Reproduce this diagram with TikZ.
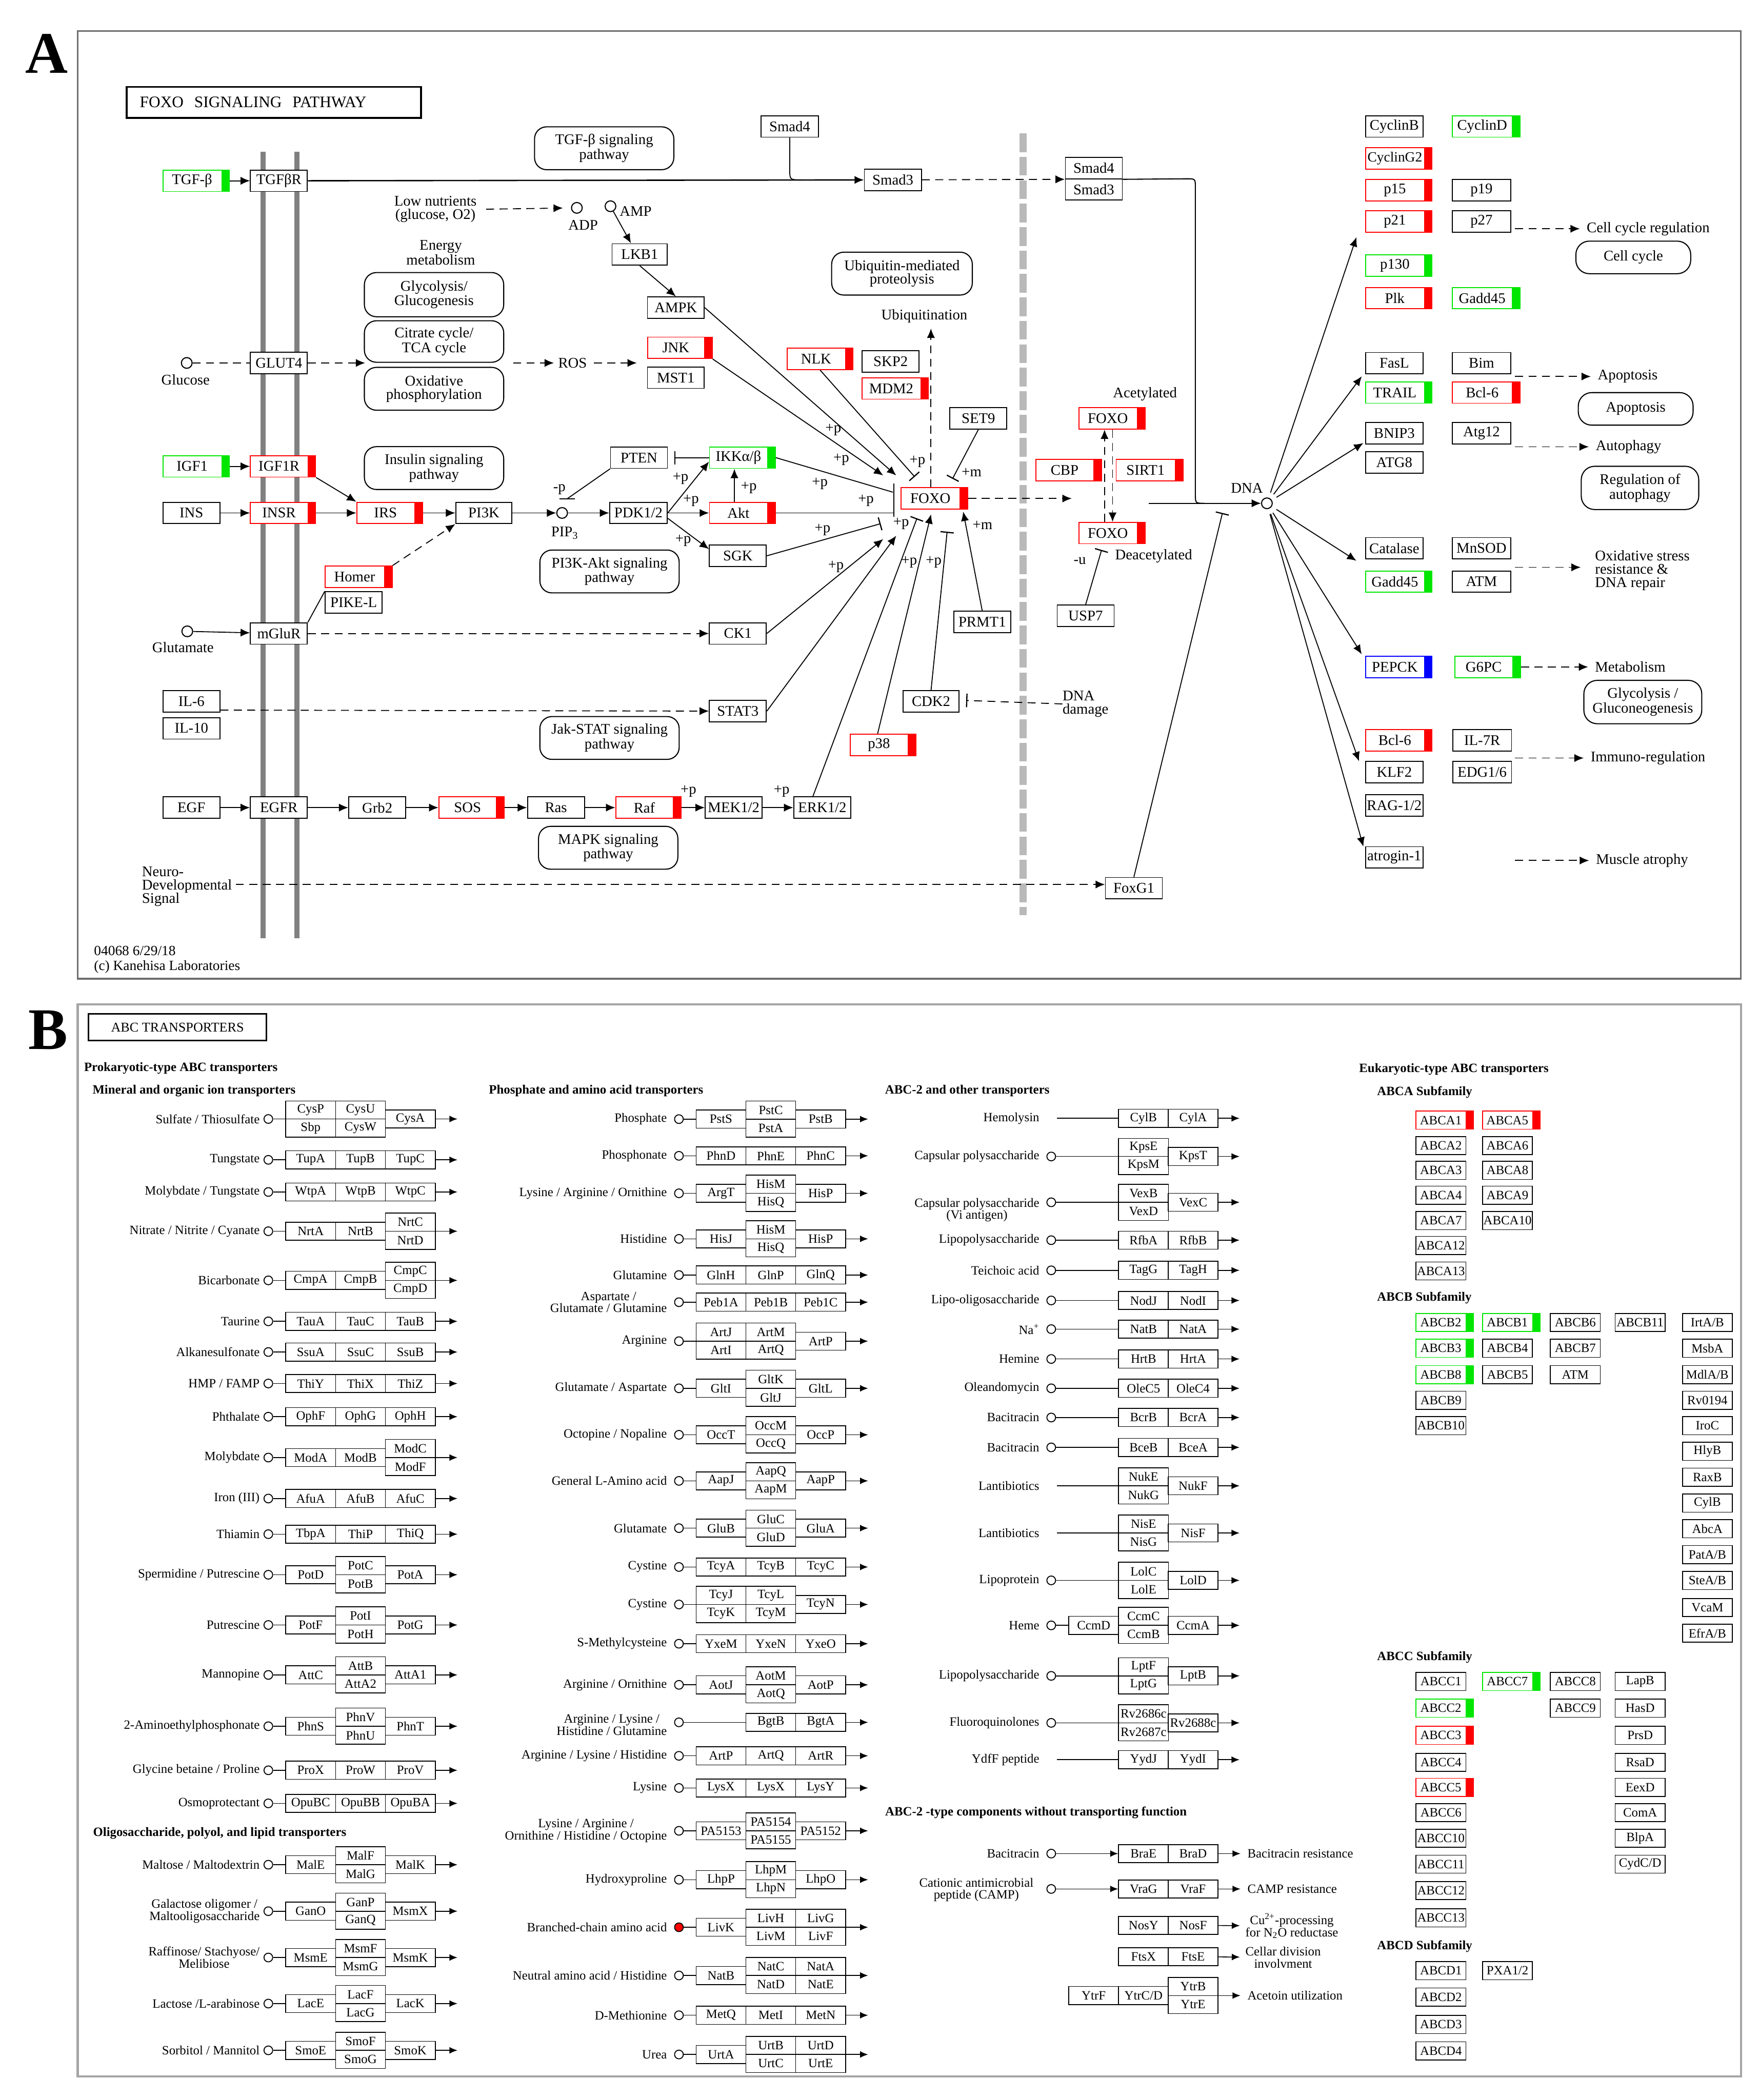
\documentclass[tikz,border=0pt]{standalone}
\usepackage{fontspec}
\setmainfont{Liberation Serif}
\usetikzlibrary{arrows.meta,calc}
\definecolor{kred}{RGB}{255,0,0}
\definecolor{kgreen}{RGB}{0,230,0}
\definecolor{kblue}{RGB}{0,0,255}
\definecolor{frameg}{RGB}{110,110,110}
\definecolor{frameb}{RGB}{165,165,165}
\definecolor{memg}{RGB}{128,128,128}
\definecolor{dashg}{RGB}{185,185,185}
\newcommand\fa{\fontsize{11}{10}\selectfont}
\newcommand\fsm{\fontsize{10.5}{11}\selectfont}
\newcommand\fb{\fontsize{9.5}{9}\selectfont}
\newcounter{rc}
\newcommand\qcf{white}
% one cell of a transporter: single box, or two stacked boxes
\newcommand{\tpcell}[5]{%
  \if\relax\detokenize{#5}\relax
    \node[tb] (#1) at (#2,#3) {#4};%
  \else
    \node[tb] (#1t) at (#2,#3-6.75) {#4};%
    \node[tb] (#1b) at (#2,#3+6.75) {#5};%
  \fi}
% three-component transporter row
\newcommand{\tprow}[8]{%
  \stepcounter{rc}\edef\qrn{R\arabic{rc}}%
  \node[lb] (\qrn-l) at (\qxl,#1) {#2};%
  \node[cirb] (\qrn-c) at (\qxc,#1) {};%
  \tpcell{\qrn-a}{\qxa}{#1}{#3}{#4}%
  \tpcell{\qrn-b}{\qxb}{#1}{#5}{#6}%
  \tpcell{\qrn-d}{\qxd}{#1}{#7}{#8}%
  \coordinate (\qrn-i) at (\qxa,#1);%
  \coordinate (\qrn-o) at (\qxr,#1);%
  \coordinate (\qrn-e) at (\qxe,#1);%
  \draw[tl] (\qrn-c) -- (\qrn-i);%
  \draw[ta] (\qrn-o) -- (\qrn-e);}
% two-component transporter row
\newcommand{\tprowc}[7]{%
  \stepcounter{rc}\edef\qrn{R\arabic{rc}}%
  \node[lb] (\qrn-l) at (\qxl,#1) {#2};%
  \ifnum#7=1 \node[cirb] (\qrn-c) at (\qxc,#1) {};\else \coordinate (\qrn-c) at (789,#1);\fi
  \tpcell{\qrn-a}{\qxa}{#1}{#3}{#4}%
  \tpcell{\qrn-b}{\qxb}{#1}{#5}{#6}%
  \coordinate (\qrn-i) at (\qxa,#1);%
  \coordinate (\qrn-o) at (\qxr,#1);%
  \coordinate (\qrn-e) at (\qxe,#1);%
  \draw[tl] (\qrn-c) -- (\qrn-i);%
  \draw[ta] (\qrn-o) -- (\qrn-e);}
\newcommand{\eb}[4]{\node[tb] (#1) at (#2,#3) {#4};}
\newcommand{\ebc}[5]{\node[tb, minimum width=43pt, hl=#5] (#1) at (#2,#3) {#4};}

\begin{document}
\begin{tikzpicture}[x=1pt,y=-1pt,
  every node/.style={inner sep=0pt},
  ga/.style={draw, fill=white, line width=0.7pt, minimum height=16pt, font=\fa},
  hl/.style={draw=#1, path picture={\fill[#1] ([xshift=-6pt]path picture bounding box.north east) rectangle (path picture bounding box.south east);}, execute at end node={\hspace*{6pt}}},
  pw/.style={draw, fill=white, line width=0.8pt, rounded corners=9pt, minimum width=104pt, minimum height=32pt, align=center, font=\fa},
  tx/.style={font=\fa, align=center},
  arr/.style={-{Latex[length=7pt,width=6pt]}, line width=0.7pt},
  darr/.style={arr, dash pattern=on 6pt off 4pt},
  dl/.style={line width=0.7pt, dash pattern=on 6pt off 4pt},
  inh/.style={-{Bar[width=10pt,line width=0.9pt]}, line width=0.7pt},
  circa/.style={draw, circle, minimum size=8pt, line width=0.8pt, fill=white},
  tb/.style={draw, fill=white, line width=0.6pt, minimum width=37.2pt, minimum height=13.5pt, anchor=west, font=\fb},
  lb/.style={anchor=east, font=\fb, align=center},
  cirb/.style={draw, circle, minimum size=6.5pt, line width=0.7pt, fill=\qcf},
  tl/.style={line width=0.6pt},
  ta/.style={-{Latex[length=6pt,width=5pt]}, line width=0.6pt},
  hb/.style={anchor=west, font=\fb\bfseries},
  rt/.style={anchor=west, font=\fb, align=center}
]
\fill[white] (0,0) rectangle (1313,1568);
\useasboundingbox (0,0) rectangle (1313,1568);

% ================= PANEL A =================
\draw[frameg, line width=1.2pt] (58,23) rectangle (1299.5,730.8);
\node[font=\fontsize{44}{44}\selectfont\bfseries] (labA) at (35,40) {A};
\node[draw, line width=1.3pt, minimum width=219.8pt, minimum height=23pt, text width=200pt, align=left, font=\fontsize{12}{12}\selectfont] (titA) at (204.4,76.5) {FOXO\ \ SIGNALING\ \ PATHWAY};

\draw[memg, line width=3.8pt] (196.3,113.5) -- (196.3,700.7);
\draw[memg, line width=3.8pt] (221.5,113.5) -- (221.5,700.7);
\draw[dashg, line width=5pt, dash pattern=on 14pt off 3.5pt] (763.7,99.6) -- (763.7,683.3);

% pathway maps
\node[pw] (tgfpw) at (451,110.7) {TGF-β signaling\\pathway};
\node[pw, minimum height=33pt] (glyc) at (324,220) {Glycolysis/\\Glucogenesis};
\node[pw, minimum height=31pt] (tca) at (324,255) {Citrate cycle/\\TCA cycle};
\node[pw] (oxph) at (324,290.3) {Oxidative\\phosphorylation};
\node[pw, minimum width=105pt] (ubq) at (673.3,204.3) {Ubiquitin-mediated\\proteolysis};
\node[pw] (insp) at (324,349.5) {Insulin signaling\\pathway};
\node[pw] (pi3kp) at (455,426.7) {PI3K-Akt signaling\\pathway};
\node[pw] (jakp) at (455,551) {Jak-STAT signaling\\pathway};
\node[pw] (mapkp) at (454,633) {MAPK signaling\\pathway};

% genes, left part
\node[ga,hl=kgreen,minimum width=49.6pt] (tgfb) at (146.4,135) {TGF-β};
\node[ga,minimum width=42.5pt] (tgfbr) at (208.2,135) {TGFβR};
\node[ga,minimum width=42.5pt] (glut4) at (208.2,271) {GLUT4};
\node[ga,hl=kgreen,minimum width=49.6pt] (igf1) at (146.4,348.2) {IGF1};
\node[ga,hl=kred,minimum width=48.7pt] (igf1r) at (211.3,348.2) {IGF1R};
\node[ga,minimum width=42.5pt] (ins) at (142.9,383) {INS};
\node[ga,hl=kred,minimum width=48.7pt] (insr) at (211.3,383) {INSR};
\node[ga,hl=kred,minimum width=49pt] (irs) at (290.8,383) {IRS};
\node[ga,minimum width=42pt] (pi3k) at (361.2,383) {PI3K};
\node[ga,minimum width=42.5pt] (pten) at (477,341.7) {PTEN};
\node[ga,hl=kgreen,minimum width=49.2pt] (ikk) at (554.2,341.7) {IKKα/β};
\node[ga,minimum width=43pt] (pdk) at (476.6,383) {PDK1/2};
\node[ga,hl=kred,minimum width=49.2pt] (akt) at (554.2,383) {Akt};
\node[ga,minimum width=42.5pt] (sgk) at (550.8,415) {SGK};
\node[ga,hl=kred,minimum width=50pt] (homer) at (267.7,430.6) {Homer};
\node[ga,minimum width=42.5pt] (pikel) at (264,449.9) {PIKE-L};
\node[ga,minimum width=42.5pt] (mglur) at (208.2,473) {mGluR};
\node[ga,minimum width=42.5pt] (ck1) at (550.8,473) {CK1};
\node[ga,minimum width=42.5pt] (il6) at (142.9,523.7) {IL-6};
\node[ga,minimum width=42.5pt] (il10) at (142.9,543.8) {IL-10};
\node[ga,minimum width=42.5pt] (stat3) at (550.8,531) {STAT3};
\node[ga,minimum width=42.5pt] (egf) at (142.9,603) {EGF};
\node[ga,minimum width=42.5pt] (egfr) at (208.2,603) {EGFR};
\node[ga,minimum width=42.5pt] (grb2) at (281.6,603) {Grb2};
\node[ga,hl=kred,minimum width=48.7pt] (sos) at (352,603) {SOS};
\node[ga,minimum width=42.5pt] (ras) at (415,603) {Ras};
\node[ga,hl=kred,minimum width=48.7pt] (raf) at (484,603) {Raf};
\node[ga,minimum width=42.5pt] (mek) at (547.7,603) {MEK1/2};
\node[ga,minimum width=42.5pt] (erk) at (613.8,603) {ERK1/2};
\node[ga,minimum width=43pt] (smad4) at (589.5,94.4) {Smad4};
\node[ga,minimum width=42.5pt] (smad3) at (666.5,134.3) {Smad3};
\node[ga,minimum width=41.3pt] (lkb1) at (477.5,190) {LKB1};
\node[ga,minimum width=42.4pt] (ampk) at (504.5,229.7) {AMPK};
\node[ga,hl=kred,minimum width=48.3pt] (jnk) at (507.5,259.7) {JNK};
\node[ga,minimum width=42.4pt] (mst1) at (504.5,282) {MST1};
\node[ga,hl=kred,minimum width=49pt] (nlk) at (612.2,268) {NLK};
\node[ga,minimum width=42.4pt] (skp2) at (664.8,270) {SKP2};
\node[ga,hl=kred,minimum width=49.4pt] (mdm2) at (668.3,290) {MDM2};
\node[ga,minimum width=42.5pt] (set9) at (730.3,312.4) {SET9};
\node[ga,hl=kred,minimum width=49.8pt] (foxo) at (697.5,372.2) {FOXO};
\node[ga,minimum width=42.5pt] (prmt1) at (733.2,464.4) {PRMT1};
\node[ga,minimum width=42pt] (cdk2) at (695,523.6) {CDK2};
\node[ga,hl=kred,minimum width=49pt] (p38) at (659.1,556.2) {p38};
\node[ga,hl=kred,minimum width=49.4pt] (foxoa) at (830,312.4) {FOXO};
\node[ga,hl=kred,minimum width=49pt] (cbp) at (797.7,351) {CBP};
\node[ga,hl=kred,minimum width=49.8pt] (sirt1) at (858.1,351) {SIRT1};
\node[ga,hl=kred,minimum width=49.4pt] (foxod) at (830,398) {FOXO};
\node[ga,minimum width=42.5pt] (usp7) at (810.4,459.8) {USP7};
\node[ga,minimum width=42.5pt] (foxg1) at (846.4,663.2) {FoxG1};
\node[ga,minimum width=42.5pt,minimum height=15.9pt] (smad4b) at (816.5,125.6) {Smad4};
\node[ga,minimum width=42.5pt,minimum height=15.9pt] (smad3b) at (816.5,141.5) {Smad3};
\node[circa] (dna) at (945.7,375.8) {};

% genes, right part
\node[ga,minimum width=42.8pt] (cyclinb) at (1040.8,94.4) {CyclinB};
\node[ga,hl=kgreen,minimum width=50.5pt] (cyclind) at (1109.4,94.4) {CyclinD};
\node[ga,hl=kred,minimum width=49.6pt,font=\fontsize{10.5}{10}\selectfont] (cycling2) at (1044.2,118.4) {CyclinG2};
\node[ga,hl=kred,minimum width=49.6pt] (p15) at (1044.2,142) {p15};
\node[ga,minimum width=43.8pt] (p19) at (1105.9,142) {p19};
\node[ga,hl=kred,minimum width=49.6pt] (p21) at (1044.2,165.3) {p21};
\node[ga,minimum width=43.8pt] (p27) at (1105.9,165.3) {p27};
\node[ga,hl=kgreen,minimum width=49.6pt] (p130) at (1044.2,198.3) {p130};
\node[ga,hl=kred,minimum width=49.6pt] (plk) at (1044.2,222.6) {Plk};
\node[ga,hl=kgreen,minimum width=50.5pt] (gadda) at (1109.4,222.6) {Gadd45};
\node[ga,minimum width=42.8pt] (fasl) at (1040.8,271.2) {FasL};
\node[ga,minimum width=43.8pt] (bim) at (1105.9,271.2) {Bim};
\node[ga,hl=kgreen,minimum width=49.6pt] (trail) at (1044.2,293.1) {TRAIL};
\node[ga,hl=kred,minimum width=50.5pt] (bcla) at (1109.4,293.1) {Bcl-6};
\node[ga,minimum width=42.8pt] (bnip3) at (1040.8,323.4) {BNIP3};
\node[ga,minimum width=43.8pt] (atg12) at (1105.9,323.4) {Atg12};
\node[ga,minimum width=42.8pt] (atg8) at (1040.8,345.2) {ATG8};
\node[ga,minimum width=42.8pt] (catalase) at (1040.8,409.4) {Catalase};
\node[ga,minimum width=43.8pt] (mnsod) at (1105.9,409.4) {MnSOD};
\node[ga,hl=kgreen,minimum width=49.6pt] (gaddb) at (1044.2,434.3) {Gadd45};
\node[ga,minimum width=43.8pt] (atm) at (1105.9,434.3) {ATM};
\node[ga,hl=kblue,minimum width=49.6pt] (pepck) at (1044.2,498) {PEPCK};
\node[ga,hl=kgreen,minimum width=49pt] (g6pc) at (1110.5,498) {G6PC};
\node[ga,hl=kred,minimum width=49.6pt] (bclb) at (1044.2,552.7) {Bcl-6};
\node[ga,minimum width=43.8pt] (il7r) at (1106.4,552.7) {IL-7R};
\node[ga,minimum width=42.8pt] (klf2) at (1040.8,576.6) {KLF2};
\node[ga,minimum width=43.8pt] (edg) at (1106.4,576.6) {EDG1/6};
\node[ga,minimum width=42.8pt] (rag) at (1040.8,601.5) {RAG-1/2};
\node[ga,minimum width=42.8pt] (atrogin) at (1040.8,640.2) {atrogin-1};

% outcome texts and maps, right
\node[tx, anchor=west] (tcc) at (1184.3,170.8) {Cell cycle regulation};
\node[pw, rounded corners=10pt, minimum width=85.7pt, minimum height=24.3pt] (pcc) at (1219.2,192.2) {Cell cycle};
\node[tx, anchor=west] (tap) at (1192.5,281.1) {Apoptosis};
\node[pw, rounded corners=10pt, minimum width=85.7pt, minimum height=24.3pt] (pap) at (1221,305.3) {Apoptosis};
\node[tx, anchor=west] (tau) at (1191,333.6) {Autophagy};
\node[pw, rounded corners=10pt, minimum width=87.7pt, minimum height=32.3pt] (pra) at (1224.2,364.3) {Regulation of\\autophagy};
\node[tx, anchor=west, align=left] (tox) at (1190.5,426) {Oxidative stress\\resistance \&\\DNA repair};
\node[tx, anchor=west] (tmet) at (1190.5,498) {Metabolism};
\node[pw, rounded corners=10pt, minimum width=88pt, minimum height=32.4pt] (pgl) at (1226.3,524.2) {Glycolysis /\\Gluconeogenesis};
\node[tx, anchor=west] (tim) at (1187.2,566) {Immuno-regulation};
\node[tx, anchor=west] (tmu) at (1191.2,642.5) {Muscle atrophy};

% small circles and free texts
\node[circa] (gluc) at (139.4,271) {};
\node[circa] (glu) at (139.8,471.4) {};
\node[circa] (adp) at (430.6,155.2) {};
\node[circa] (amp) at (455.7,154) {};
\node[circa] (pip3) at (419.6,383) {};
\node[tx] (tglucose) at (138.5,283.5) {Glucose};
\node[tx] (tglutamate) at (136.6,483.5) {Glutamate};
\node[tx] (lown) at (325,156.3) {Low nutrients\\(glucose, O2)};
\node[tx] (tadp) at (435.3,168) {ADP};
\node[tx] (tamp) at (474.5,157.9) {AMP};
\node[tx] (energy) at (329,188.6) {Energy\\metabolism};
\node[tx] (ros) at (427.4,271) {ROS};
\node[tx] (ubt) at (690,236) {Ubiquitination};
\node[tx] (acet) at (854.7,294.3) {Acetylated};
\node[tx, anchor=west] (deacet) at (832.3,415.2) {Deacetylated};
\node[tx] (mu) at (806,418.7) {-u};
\node[tx] (tdna) at (930.8,364.3) {DNA};
\node[tx, anchor=west, align=left] (dnadmg) at (793,525.6) {DNA\\damage};
\node[tx] (tpip3) at (421.6,398) {PIP\textsubscript{3}};
\node[tx] (mp) at (417.6,365.5) {-p};
\node[tx, anchor=west, align=left] (neuro) at (105.8,662) {Neuro-\\Developmental\\Signal};
\node[anchor=west, align=left, font=\fsm] (kegg) at (70,716.5) {04068 6/29/18\\(c) Kanehisa Laboratories};
\foreach \px/\py [count=\k] in {622/321, 628/343, 612/361, 646.4/373.6, 614/395.5, 624/423, 684.8/344.8, 672.7/391, 678.7/419.9, 697/419.9, 508/357.5, 515.8/373.6, 510/403.6, 559/364.3, 513.9/590.8, 583.5/590.8}
  \node[tx] (pp\k) at (\px,\py) {+p};
\node[tx] (pm1) at (725.3,352.7) {+m};
\node[tx] (pm2) at (733.4,392) {+m};

% named free ends
\coordinate (s4a) at (589.5,126);
\coordinate (s4b) at (598,134.3);
\coordinate (sl1) at (886,133.5);
\coordinate (sl2) at (892.3,140);
\coordinate (sl3) at (892.3,369);
\coordinate (sl4) at (899,375.8);
\coordinate (dl) at (857.5,375.8);
\coordinate (fgx) at (912.5,383);
\coordinate (gte) at (272.6,271);
\coordinate (rs1) at (383,271);
\coordinate (jin) at (475.4,271);
\coordinate (ptx) at (423.4,372.4);
\coordinate (ptx1) at (417.5,372.4);
\coordinate (ptx2) at (429.3,372.4);
\coordinate (ptb) at (503.3,341.7);
\coordinate (ndl) at (176,660.4);
\coordinate (fA) at (669,355);
\coordinate (fJ) at (659.3,355);
\coordinate (fN) at (682.8,356);
\coordinate (fI) at (666.5,367.5);
\coordinate (fK) at (667.2,383);
\coordinate (fb1) at (667.2,361);
\coordinate (fb2) at (667.2,386);
\coordinate (fS) at (657.4,391);
\coordinate (fC) at (659.3,402.5);
\coordinate (fT) at (669,400);
\coordinate (fE) at (684.5,387);
\coordinate (fP) at (695,384);
\coordinate (fD) at (707,397);
\coordinate (fR) at (719,382);
\coordinate (fX) at (711,357.5);
\coordinate (fU) at (694.9,245.3);
\coordinate (fo) at (800,372.2);
\coordinate (ub) at (822.3,410.6);
\coordinate (cdb) at (721.2,523);
\coordinate (t1) at (1012.5,177.1);
\coordinate (t2) at (1016.5,281);
\coordinate (t3) at (1017.7,330.8);
\coordinate (t4) at (1012.5,418.7);
\coordinate (t5) at (1016.5,488.5);
\coordinate (t6) at (1014.5,568.4);
\coordinate (t7) at (1017.7,632.1);
\coordinate (d1) at (1131,170.8);
\coordinate (d2) at (1131,281.1);
\coordinate (d3) at (1131,333.6);
\coordinate (d4) at (1131,423.6);
\coordinate (d4e) at (1180,423.6);
\coordinate (d6) at (1131,566);
\coordinate (d7) at (1131,642.5);

% connectors A
\draw[arr] (tgfb) -- (tgfbr);
\draw[arr, line width=1pt] (tgfbr) -- (smad3);
\draw[line width=0.7pt] (smad4) -- (s4a) .. controls (589.5,134.3) .. (s4b);
\draw[darr] (smad3) -- (smad4b.south west);
\draw[line width=0.8pt] (smad4b.south east) -- (sl1) .. controls (892.3,133.5) .. (sl2) -- (sl3) .. controls (892.3,375.8) .. (sl4);
\draw[arr] (dl) -- (dna);
\draw[inh] (foxg1.north) -- (fgx);
\draw[darr, shorten <=7pt, shorten >=6pt] (lown.east) -- (adp);
\draw[arr] (amp) -- ($(lkb1.north)+(-6.5,0)$);
\draw[arr] (lkb1.south) -- (ampk.north);
\draw[dl] (gluc) -- (glut4);
\draw[darr] (glut4) -- (gte);
\draw[darr, shorten >=3pt] (rs1) -- (ros.west);
\draw[darr, shorten <=5pt] (ros) -- (jin);
\draw[arr] (igf1) -- (igf1r);
\draw[arr] (ins) -- (insr);
\draw[arr] (insr) -- (irs);
\draw[arr] (igf1r.south east) -- (irs.north west);
\draw[arr] (irs) -- (pi3k);
\draw[arr] (pi3k) -- (pip3);
\draw[arr] (pip3) -- (pdk);
\draw[line width=0.7pt] (pten.south west) -- (ptx);
\draw[line width=1pt] (ptx1) -- (ptx2);
\draw[inh] (ikk) -- (ptb);
\draw[arr] (pdk.east) -- ($(ikk.west)+(0,3)$);
\draw[arr] (pdk) -- (akt);
\draw[arr] ($(pdk.east)+(0,4)$) -- ($(sgk.west)+(0,-5)$);
\draw[arr] ($(akt.north)+(-6,0)$) -- ($(ikk.south)+(-6,0)$);
\draw[darr] (homer.north east) -- (pi3k.south west);
\draw[line width=0.7pt] (mglur.north east) -- (pikel.north west);
\draw[arr] (glu) -- (mglur);
\draw[darr] (mglur) -- (ck1);
\draw[darr] ($(il6.east)+(0,6.5)$) -- (stat3);
\draw[arr] (egf) -- (egfr);
\draw[arr] (egfr) -- (grb2);
\draw[arr] (grb2) -- (sos);
\draw[arr] (sos) -- (ras);
\draw[arr] (ras) -- (raf);
\draw[arr] (raf) -- (mek);
\draw[arr] (mek) -- (erk);
\draw[darr] (ndl) -- (foxg1.west |- ndl);
\draw[arr] (ampk.east) -- (fA);
\draw[arr] (jnk.south east) -- (fJ);
\draw[inh] (nlk.south) -- (fN);
\draw[line width=0.7pt] (ikk.east) -- (fI);
\draw[line width=0.7pt] (akt.east) -- (fK);
\draw[line width=1pt] (fb1) -- (fb2);
\draw[inh] (sgk.east) -- (fS);
\draw[arr] (ck1.east) -- (fC);
\draw[arr] (stat3.east) -- (fT);
\draw[inh] ($(erk.north)+(-7,0)$) -- (fE);
\draw[arr] ($(p38.north)+(-4,0)$) -- (fP);
\draw[inh] (cdk2.north) -- (fD);
\draw[arr] (prmt1.north) -- (fR);
\draw[inh] (set9.south) -- (fX);
\draw[darr] ($(foxo.north)+(-2.6,0)$) -- (fU);
\draw[darr] (foxo.east) -- (fo);
\draw[darr] ($(foxod.north)+(-5.5,0)$) -- ($(foxoa.south)+(-5.5,0)$);
\draw[darr] ($(foxoa.south)+(0.5,0)$) -- ($(foxod.north)+(0.5,0)$);
\draw[inh] (usp7.north) -- (ub);
\draw[dl, -{Bar[width=10pt,line width=0.9pt]}] (dnadmg.west) -- (cdb);
\foreach \t in {t1,t2,t3,t4,t5,t6,t7}
  \draw[arr, shorten <=4pt] (dna) -- (\t);
\draw[darr, shorten >=5pt] (d1) -- (tcc.west);
\draw[darr, shorten >=5pt] (d2) -- (tap.west);
\draw[darr, shorten >=5pt] (d3) -- (tau.west);
\draw[darr] (d4) -- (d4e);
\draw[darr, shorten >=5pt] (g6pc.east) -- (tmet.west);
\draw[darr, shorten >=5pt] (d6) -- (tim.west);
\draw[darr, shorten >=5pt] (d7) -- (tmu.west);

% ================= PANEL B =================
\draw[frameb, line width=1.6pt] (58,750) rectangle (1299.7,1550.5);
\node[font=\fontsize{44}{44}\selectfont\bfseries] (labB) at (36,769) {B};
\node[draw, line width=1.2pt, minimum width=133pt, minimum height=20pt, font=\fontsize{10}{10}\selectfont] (titB) at (132.5,767) {ABC TRANSPORTERS};

\node[hb] (h1) at (62.6,797.7) {Prokaryotic-type ABC transporters};
\node[hb] (h2) at (68.9,814.3) {Mineral and organic ion transporters};
\node[hb] (h3) at (69.3,1368.8) {Oligosaccharide, polyol, and lipid transporters};
\node[hb] (h4) at (364.8,814.5) {Phosphate and amino acid transporters};
\node[hb] (h5) at (660.5,814.5) {ABC-2 and other transporters};
\node[hb] (h6) at (660.6,1353.5) {ABC-2 -type components without transporting function};
\node[hb] (h7) at (1014.4,798.2) {Eukaryotic-type ABC transporters};
\node[hb] (h8) at (1027.8,815.5) {ABCA Subfamily};
\node[hb] (h9) at (1027.8,969.2) {ABCB Subfamily};
\node[hb] (h10) at (1027.8,1237.5) {ABCC Subfamily};
\node[hb] (h11) at (1027.8,1453.2) {ABCD Subfamily};

% column 1
\def\qxl{194}\def\qxc{200.3}\def\qxa{213}\def\qxb{250.2}\def\qxd{287.4}\def\qxr{324.6}\def\qxe{341.5}
\tprow{835.5}{Sulfate / Thiosulfate}{CysP}{Sbp}{CysU}{CysW}{CysA}{}
\tprow{866}{Tungstate}{TupA}{}{TupB}{}{TupC}{}
\tprow{890}{Molybdate / Tungstate}{WtpA}{}{WtpB}{}{WtpC}{}
\tprow{919.3}{Nitrate / Nitrite / Cyanate}{NrtA}{}{NrtB}{}{NrtC}{NrtD}
\tprow{956}{Bicarbonate}{CmpA}{}{CmpB}{}{CmpC}{CmpD}
\tprow{986.6}{Taurine}{TauA}{}{TauC}{}{TauB}{}
\tprow{1009.5}{Alkanesulfonate}{SsuA}{}{SsuC}{}{SsuB}{}
\tprow{1033}{HMP / FAMP}{ThiY}{}{ThiX}{}{ThiZ}{}
\tprow{1057.8}{Phthalate}{OphF}{}{OphG}{}{OphH}{}
\tprow{1088.3}{Molybdate}{ModA}{}{ModB}{}{ModC}{ModF}
\tprow{1118.9}{Iron (III)}{AfuA}{}{AfuB}{}{AfuC}{}
\tprow{1145.5}{Thiamin}{TbpA}{}{ThiP}{}{ThiQ}{}
\tprow{1175.8}{Spermidine / Putrescine}{PotD}{}{PotC}{PotB}{PotA}{}
\tprow{1213.3}{Putrescine}{PotF}{}{PotI}{PotH}{PotG}{}
\tprow{1250.6}{Mannopine}{AttC}{}{AttB}{AttA2}{AttA1}{}
\tprow{1288.9}{2-Aminoethylphosphonate}{PhnS}{}{PhnV}{PhnU}{PhnT}{}
\tprow{1321.8}{Glycine betaine / Proline}{ProX}{}{ProW}{}{ProV}{}
\tprow{1346.5}{Osmoprotectant}{OpuBC}{}{OpuBB}{}{OpuBA}{}
\tprow{1392.3}{Maltose / Maltodextrin}{MalE}{}{MalF}{MalG}{MalK}{}
\tprow{1427}{Galactose oligomer /\\Maltooligosaccharide}{GanO}{}{GanP}{GanQ}{MsmX}{}
\tprow{1461.6}{Raffinose/ Stachyose/\\Melibiose}{MsmE}{}{MsmF}{MsmG}{MsmK}{}
\tprow{1496}{Lactose /L-arabinose}{LacE}{}{LacF}{LacG}{LacK}{}
\tprow{1530.9}{Sorbitol / Mannitol}{SmoE}{}{SmoF}{SmoG}{SmoK}{}

% column 2
\def\qxl{498}\def\qxc{506.8}\def\qxa{519.3}\def\qxb{556.5}\def\qxd{593.7}\def\qxr{630.9}\def\qxe{648}
\tprow{835.6}{Phosphate}{PstS}{}{PstC}{PstA}{PstB}{}
\tprow{863}{Phosphonate}{PhnD}{}{PhnE}{}{PhnC}{}
\tprow{891}{Lysine / Arginine / Ornithine}{ArgT}{}{HisM}{HisQ}{HisP}{}
\tprow{925}{Histidine}{HisJ}{}{HisM}{HisQ}{HisP}{}
\tprow{952}{Glutamine}{GlnH}{}{GlnP}{}{GlnQ}{}
\tprow{972.3}{Aspartate /\\Glutamate / Glutamine}{Peb1A}{}{Peb1B}{}{Peb1C}{}
\tprow{1001.4}{Arginine}{ArtJ}{ArtI}{ArtM}{ArtQ}{ArtP}{}
\tprow{1036.6}{Glutamate / Aspartate}{GltI}{}{GltK}{GltJ}{GltL}{}
\tprow{1071.3}{Octopine / Nopaline}{OccT}{}{OccM}{OccQ}{OccP}{}
\tprow{1105.7}{General L-Amino acid}{AapJ}{}{AapQ}{AapM}{AapP}{}
\tprow{1141}{Glutamate}{GluB}{}{GluC}{GluD}{GluA}{}
\tprow{1170}{Cystine}{TcyA}{}{TcyB}{}{TcyC}{}
\tprow{1198}{Cystine}{TcyJ}{TcyK}{TcyL}{TcyM}{TcyN}{}
\tprow{1227.3}{S-Methylcysteine}{YxeM}{}{YxeN}{}{YxeO}{}
\tprow{1258}{Arginine / Ornithine}{AotJ}{}{AotM}{AotQ}{AotP}{}
\node[lb] (bgt-l) at (\qxl,1288) {Arginine / Lysine /\\Histidine / Glutamine};
\node[cirb] (bgt-c) at (\qxc,1286) {};
\node[tb] (bgt-b) at (\qxb,1286) {BgtB};
\node[tb] (bgt-d) at (\qxd,1286) {BgtA};
\coordinate (bgt-e) at (\qxe,1286);
\draw[tl] (bgt-c) -- (bgt-b);
\draw[ta] (bgt-d) -- (bgt-e);
\tprow{1311}{Arginine / Lysine / Histidine}{ArtP}{}{ArtQ}{}{ArtR}{}
\tprow{1335}{Lysine}{LysX}{}{LysX}{}{LysY}{}
\tprow{1367}{Lysine / Arginine /\\Ornithine / Histidine / Octopine}{PA5153}{}{PA5154}{PA5155}{PA5152}{}
\tprow{1403.5}{Hydroxyproline}{LhpP}{}{LhpM}{LhpN}{LhpO}{}
\renewcommand\qcf{kred}
\tprow{1439}{Branched-chain amino acid}{LivK}{}{LivH}{LivM}{LivG}{LivF}
\renewcommand\qcf{white}
\tprow{1475}{Neutral amino acid / Histidine}{NatB}{}{NatC}{NatD}{NatA}{NatE}
\tprow{1504.7}{D-Methionine}{MetQ}{}{MetI}{}{MetN}{}
\tprow{1534}{Urea}{UrtA}{}{UrtB}{UrtC}{UrtD}{UrtE}

% column 3
\def\qxl{776}\def\qxc{784.7}\def\qxa{834.7}\def\qxb{871.7}\def\qxr{908.9}\def\qxe{925.3}
\tprowc{835}{Hemolysin}{CylB}{}{CylA}{}{0}
\tprowc{863.5}{Capsular polysaccharide}{KpsE}{KpsM}{KpsT}{}{1}
\tprowc{897.7}{}{VexB}{VexD}{VexC}{}{1}
\node[lb] (vi-l) at (\qxl,903.5) {Capsular polysaccharide\\(Vi antigen)};
\tprowc{926}{Lipopolysaccharide}{RfbA}{}{RfbB}{}{1}
\tprowc{948.5}{Teichoic acid}{TagG}{}{TagH}{}{1}
\tprowc{971}{Lipo-oligosaccharide}{NodJ}{}{NodI}{}{1}
\tprowc{992.4}{Na\textsuperscript{+}}{NatB}{}{NatA}{}{1}
\tprowc{1014.7}{Hemine}{HrtB}{}{HrtA}{}{1}
\tprowc{1036.6}{Oleandomycin}{OleC5}{}{OleC4}{}{1}
\tprowc{1058.4}{Bacitracin}{BcrB}{}{BcrA}{}{1}
\tprowc{1080.7}{Bacitracin}{BceB}{}{BceA}{}{1}
\tprowc{1109.4}{Lantibiotics}{NukE}{NukG}{NukF}{}{0}
\tprowc{1144.6}{Lantibiotics}{NisE}{NisG}{NisF}{}{0}
\tprowc{1180}{Lipoprotein}{LolC}{LolE}{LolD}{}{1}
\node[lb] (heme-l) at (\qxl,1213.6) {Heme};
\node[cirb] (heme-c) at (\qxc,1213.6) {};
\node[tb] (heme-0) at (797.5,1213.6) {CcmD};
\tpcell{heme-a}{\qxa}{1213.6}{CcmC}{CcmB}
\node[tb] (heme-b) at (\qxb,1213.6) {CcmA};
\coordinate (heme-e) at (\qxe,1213.6);
\draw[tl] (heme-c) -- (heme-0);
\draw[ta] (heme-b) -- (heme-e);
\tprowc{1251.3}{Lipopolysaccharide}{LptF}{LptG}{LptB}{}{1}
\tprowc{1286.4}{Fluoroquinolones}{Rv2686c}{Rv2687c}{Rv2688c}{}{1}
\tprowc{1313.9}{YdfF peptide}{YydJ}{}{YydI}{}{0}

% ABC-2 type components without transporting function
\node[lb] (bac-l) at (\qxl,1384) {Bacitracin};
\node[cirb] (bac-c) at (\qxc,1384) {};
\node[tb] (bac-a) at (\qxa,1384) {BraE};
\node[tb] (bac-b) at (\qxb,1384) {BraD};
\node[rt] (bac-r) at (931,1384) {Bacitracin resistance};
\draw[ta] (bac-c) -- (bac-a);
\draw[ta, shorten >=5pt] (bac-b) -- (bac-r);
\node[lb] (camp-l) at (771.6,1411) {Cationic antimicrobial\\peptide (CAMP)};
\node[cirb] (camp-c) at (\qxc,1410.4) {};
\node[tb] (camp-a) at (\qxa,1410.4) {VraG};
\node[tb] (camp-b) at (\qxb,1410.4) {VraF};
\node[rt] (camp-r) at (931,1410.4) {CAMP resistance};
\draw[ta] (camp-c) -- (camp-a);
\draw[ta, shorten >=5pt] (camp-b) -- (camp-r);
\node[tb] (nos-a) at (\qxa,1437.6) {NosY};
\node[tb] (nos-b) at (\qxb,1437.6) {NosF};
\node[rt] (nos-r) at (929.5,1438) {Cu\textsuperscript{2+}-processing\\for N\textsubscript{2}O reductase};
\draw[ta, shorten >=4pt] (nos-b) -- (nos-r);
\node[tb] (fts-a) at (\qxa,1461) {FtsX};
\node[tb] (fts-b) at (\qxb,1461) {FtsE};
\node[rt] (fts-r) at (929.5,1461.5) {Cellar division\\involvment};
\draw[ta, shorten >=4pt] (fts-b) -- (fts-r);
\node[tb] (ytr-0) at (797.5,1490) {YtrF};
\node[tb] (ytr-a) at (\qxa,1490) {YtrC/D};
\tpcell{ytr-b}{\qxb}{1490}{YtrB}{YtrE}
\coordinate (ytr-o) at (\qxr,1490);
\node[rt] (ytr-r) at (931,1490) {Acetoin utilization};
\draw[ta, shorten >=5pt] (ytr-o) -- (ytr-r);

% column 4: eukaryotic
\ebc{abca1}{1056.7}{836.4}{ABCA1}{kred}
\eb{abca2}{1056.7}{855.4}{ABCA2}
\eb{abca3}{1056.7}{873.9}{ABCA3}
\eb{abca4}{1056.7}{892.4}{ABCA4}
\eb{abca7}{1056.7}{911.4}{ABCA7}
\eb{abca12}{1056.7}{929.9}{ABCA12}
\eb{abca13}{1056.7}{949}{ABCA13}
\ebc{abca5}{1106.4}{836.4}{ABCA5}{kred}
\eb{abca6}{1106.4}{855.4}{ABCA6}
\eb{abca8}{1106.4}{873.9}{ABCA8}
\eb{abca9}{1106.4}{892.4}{ABCA9}
\eb{abca10}{1106.4}{911.4}{ABCA10}
\ebc{abcb2}{1056.7}{987.4}{ABCB2}{kgreen}
\ebc{abcb3}{1056.7}{1006.7}{ABCB3}{kgreen}
\ebc{abcb8}{1056.7}{1026.4}{ABCB8}{kgreen}
\eb{abcb9}{1056.7}{1045.5}{ABCB9}
\eb{abcb10}{1056.7}{1064.5}{ABCB10}
\ebc{abcb1}{1106.4}{987.4}{ABCB1}{kgreen}
\eb{abcb4}{1106.4}{1006.7}{ABCB4}
\eb{abcb5}{1106.4}{1026.4}{ABCB5}
\eb{abcb6}{1157}{987.4}{ABCB6}
\eb{abcb7}{1157}{1006.7}{ABCB7}
\eb{abcatm}{1157}{1026.4}{ATM}
\eb{abcb11}{1205.4}{987.4}{ABCB11}
\foreach \yy/\tt [count=\k] in {987.4/IrtA\slash B, 1006.7/MsbA, 1026.4/MdlA\slash B, 1045.5/Rv0194, 1064.5/IroC, 1083.6/HlyB, 1103/RaxB, 1122.3/CylB, 1141.4/AbcA, 1160.8/PatA\slash B, 1180.1/SteA\slash B, 1200.3/VcaM, 1219.4/EfrA\slash B}
  \node[tb] (ee\k) at (1255.6,\yy) {\tt};
\eb{abcc1}{1056.7}{1255.5}{ABCC1}
\ebc{abcc2}{1056.7}{1275.4}{ABCC2}{kgreen}
\ebc{abcc3}{1056.7}{1295.7}{ABCC3}{kred}
\eb{abcc4}{1056.7}{1315.9}{ABCC4}
\ebc{abcc5}{1056.7}{1334.5}{ABCC5}{kred}
\eb{abcc6}{1056.7}{1353.4}{ABCC6}
\eb{abcc10}{1056.7}{1372.5}{ABCC10}
\eb{abcc11}{1056.7}{1391.9}{ABCC11}
\eb{abcc12}{1056.7}{1411.6}{ABCC12}
\eb{abcc13}{1056.7}{1432}{ABCC13}
\ebc{abcc7}{1106.4}{1255.5}{ABCC7}{kgreen}
\eb{abcc8}{1157}{1255.5}{ABCC8}
\eb{abcc9}{1157}{1275.4}{ABCC9}
\foreach \yy/\tt [count=\k] in {1255.5/LapB, 1275.4/HasD, 1295.7/PrsD, 1315.9/RsaD, 1334.5/EexD, 1353.4/ComA, 1372.5/BlpA, 1391.9/CydC\slash D}
  \node[tb] (ed\k) at (1205.4,\yy) {\tt};
\eb{abcd1}{1056.7}{1471.4}{ABCD1}
\eb{abcd2}{1056.7}{1491.1}{ABCD2}
\eb{abcd3}{1056.7}{1511.6}{ABCD3}
\eb{abcd4}{1056.7}{1531.3}{ABCD4}
\eb{pxa}{1106.4}{1471.4}{PXA1/2}
\end{tikzpicture}
\end{document}
